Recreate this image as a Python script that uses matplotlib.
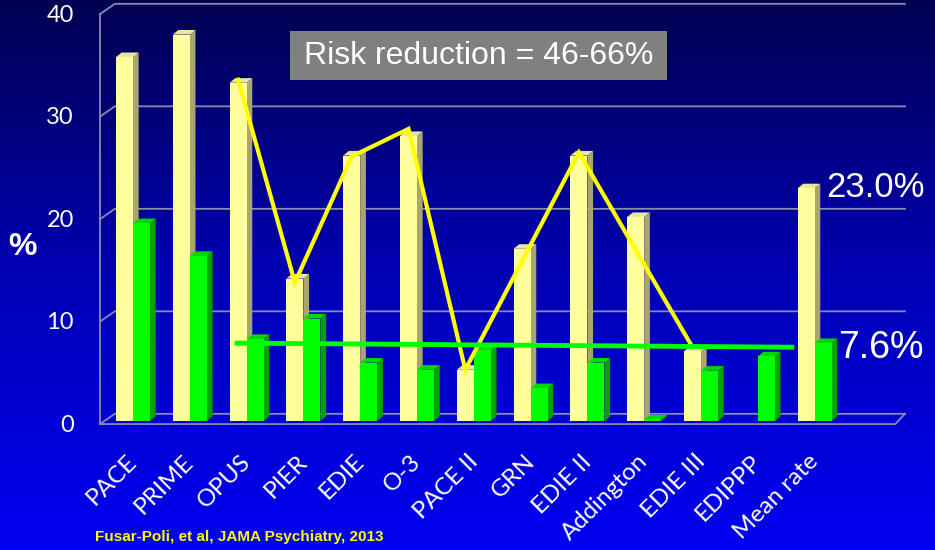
import numpy as np
import matplotlib.pyplot as plt
from matplotlib.patches import Polygon, Rectangle
from matplotlib.colors import LinearSegmentedColormap

# data
studies = ["PACE", "PRIME", "OPUS", "PIER", "EDIE", "O-3", "PACE II", "GRN",
           "EDIE II", "Addington", "EDIE III", "EDIPPP", "Mean rate"]
control = [35.5, 37.7, 33.0, 13.9, 25.9, 27.8, 5.0, 16.8, 25.9, 19.9, 6.8, 0.0, 22.7]
treated = [19.3, 16.1, 8.0, 10.0, 5.7, 5.0, 6.9, 3.2, 5.7, 0.15, 4.9, 6.3, 7.6]

# zigzag through the control arms of the trials that also had a treated arm
zig_idx = [2, 3, 4, 5, 6, 8, 10]
zig_val = [33.3, 13.5, 25.8, 28.5, 5.0, 26.2, 7.2]

# green trend line for the treated arms
trend_x = [1.83, 11.6]
trend_y = [7.6, 7.2]

yticks = [0, 10, 20, 30, 40]

fig = plt.figure(figsize=(9.35, 5.5), dpi=100)
ax = fig.add_axes([0, 0, 1, 1])
# pixel layout: category i centred at 133 + 56.8*i px, value v at 421 - 10.25*v px
px, py = 56.8, 10.25
xlim = (-133 / px, (935 - 133) / px)
ylim = ((421 - 550) / py, 421 / py)
ax.set_xlim(*xlim)
ax.set_ylim(*ylim)
ax.axis("off")

# blue gradient background
grad = np.linspace(0, 1, 256).reshape(-1, 1)
cmap = LinearSegmentedColormap.from_list("bg", ["#0000f2", "#0000b4", "#000050"])
ax.imshow(grad, cmap=cmap, extent=[xlim[0], xlim[1], ylim[0], ylim[1]],
          origin="lower", aspect="auto", zorder=0)

# back wall grid and left wall / floor edges
gcol = "#8a8ab0"
bx0, bx1 = -0.32, 13.59
fx0, fx1 = -0.58, 13.42
for v in yticks:
    ax.plot([fx0, bx0, bx1], [v - 0.3, v + 0.7, v + 0.7], color=gcol, lw=1.3, zorder=1)
ax.plot([fx0, fx0], [-0.3, 39.7], color=gcol, lw=1.3, zorder=1)
ax.plot([fx0, fx1, bx1], [-0.3, -0.3, 0.7], color=gcol, lw=1.3, zorder=1)

# pseudo 3D bars
dx, dy = 0.1, 0.45
w = 0.3


def bars3d(xs, hs, front, side, top):
    for x, h in zip(xs, hs):
        if h <= 0:
            continue
        l, r = x - w / 2, x + w / 2
        ax.add_patch(Polygon([[r, 0], [r + dx, dy], [r + dx, h + dy], [r, h]],
                             closed=True, fc=side, ec="none", zorder=3))
        ax.add_patch(Polygon([[l, h], [l + dx, h + dy], [r + dx, h + dy], [r, h]],
                             closed=True, fc=top, ec="none", zorder=3))
    ax.bar(xs, hs, width=w, color=front, zorder=3)


idx = np.arange(len(studies))
bars3d(idx - w / 2, control, "#ffff9c", "#a8a66c", "#e8e6a0")
bars3d(idx + w / 2, treated, "#00ff00", "#00a400", "#00d800")

ax.plot(np.array(zig_idx) - w / 2, zig_val, color="#ffff00", lw=3, zorder=5,
        solid_joinstyle="miter")
ax.plot(trend_x, trend_y, color="#00ff00", lw=3.5, zorder=5)

# tick labels
for v in yticks:
    ax.text(-1.04, v - 0.4, str(v), color="white", fontsize=17, family="Lato",
            ha="right", va="center", zorder=6)
ax.text(-1.94, 17.0, "%", color="white", fontsize=23, fontweight="bold",
        family="Liberation Sans", ha="center", va="center")

for i, s in enumerate(studies):
    ax.text(i - 0.12, -2.9, s, color="white", fontsize=17.5, family="Lato",
            rotation=45, rotation_mode="anchor", ha="right", va="top")

# annotations
fig.add_artist(Rectangle((290 / 935, 1 - 80 / 550), 377 / 935, 49 / 550,
                         transform=fig.transFigure, fc="#808080", ec="none"))
fig.text(479 / 935, 1 - 56 / 550, "Risk reduction = 46-66%", color="white",
         fontsize=23, family="Liberation Sans", ha="center", va="center")
fig.text(826 / 935, 1 - 187 / 550, "23.0%", color="white", fontsize=25,
         family="Liberation Sans", ha="left", va="center")
fig.text(838 / 935, 1 - 348 / 550, "7.6%", color="white", fontsize=27,
         family="Liberation Sans", ha="left", va="center")
fig.text(95 / 935, 1 - 537 / 550, "Fusar-Poli, et al, JAMA Psychiatry, 2013",
         color="#ffff00", fontsize=11, fontweight="bold",
         family="Liberation Sans", ha="left", va="center")

fig.savefig("out.png", dpi=100)
